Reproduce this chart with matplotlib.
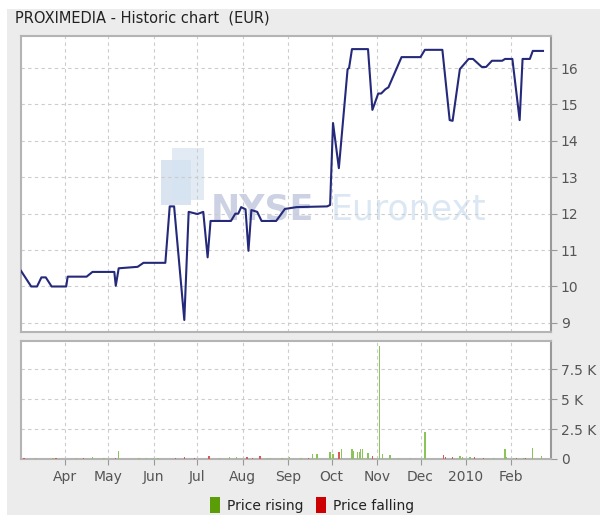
import pandas as pd
import matplotlib
matplotlib.use("Agg")
import matplotlib.pyplot as plt
import matplotlib.dates as mdates
from matplotlib.patches import Rectangle, Patch
from matplotlib.ticker import FixedLocator, FuncFormatter

# price line vertices (EUR)
price_dates = [
    "2009-03-02", "2009-03-09", "2009-03-13", "2009-03-16", "2009-03-19", "2009-03-23",
    "2009-04-02", "2009-04-03", "2009-04-16", "2009-04-20", "2009-05-05", "2009-05-06",
    "2009-05-08", "2009-05-21", "2009-05-25", "2009-06-09", "2009-06-12", "2009-06-15",
    "2009-06-22", "2009-06-25", "2009-07-01", "2009-07-05", "2009-07-08", "2009-07-10",
    "2009-07-24", "2009-07-27", "2009-07-29", "2009-07-31", "2009-08-03", "2009-08-05",
    "2009-08-07", "2009-08-11", "2009-08-14", "2009-08-24", "2009-08-30", "2009-09-07",
    "2009-09-28", "2009-09-30", "2009-10-02", "2009-10-06", "2009-10-12", "2009-10-13",
    "2009-10-15", "2009-10-26", "2009-10-29", "2009-11-02", "2009-11-04", "2009-11-07",
    "2009-11-09", "2009-11-18", "2009-12-01", "2009-12-04", "2009-12-16", "2009-12-21",
    "2009-12-23", "2009-12-28", "2010-01-03", "2010-01-06", "2010-01-12", "2010-01-15",
    "2010-01-19", "2010-01-26", "2010-01-28", "2010-02-02", "2010-02-07", "2010-02-09",
    "2010-02-14", "2010-02-16", "2010-02-23",
]
prices = [
    10.43, 10.0, 10.0, 10.25, 10.25, 10.0,
    10.0, 10.27, 10.27, 10.4, 10.4, 10.02,
    10.5, 10.54, 10.65, 10.65, 12.2, 12.2,
    9.08, 12.05, 11.99, 12.05, 10.8, 11.8,
    11.8, 12.0, 12.0, 12.18, 12.12, 10.98,
    12.1, 12.05, 11.8, 11.8, 12.13, 12.18,
    12.2, 12.24, 14.49, 13.25, 15.97, 16.0,
    16.52, 16.52, 14.85, 15.3, 15.3, 15.42,
    15.47, 16.3, 16.3, 16.5, 16.5, 14.57,
    14.55, 15.97, 16.25, 16.25, 16.03, 16.03,
    16.2, 16.2, 16.25, 16.25, 14.57, 16.25,
    16.25, 16.47, 16.47,
]

# daily volumes
rising_dates = [
    "2009-03-12", "2009-03-24", "2009-04-09", "2009-04-20", "2009-04-28", "2009-05-08",
    "2009-05-22", "2009-05-27", "2009-06-01", "2009-06-04", "2009-07-16", "2009-07-23",
    "2009-07-28", "2009-08-18", "2009-08-20", "2009-08-28", "2009-09-02", "2009-09-10",
    "2009-09-18", "2009-09-21", "2009-09-30", "2009-10-02", "2009-10-08", "2009-10-15",
    "2009-10-16", "2009-10-19", "2009-10-20", "2009-10-21", "2009-10-22", "2009-10-26",
    "2009-11-03", "2009-11-05", "2009-11-10", "2009-11-16", "2009-11-24", "2009-12-04",
    "2009-12-28", "2009-12-30", "2010-01-04", "2010-01-20", "2010-01-28", "2010-01-29",
    "2010-02-03", "2010-02-10", "2010-02-16", "2010-02-22",
]
rising_vol = [
    80, 60, 60, 170, 80, 670,
    100, 120, 90, 90, 80, 150,
    200, 100, 100, 120, 180, 90,
    420, 420, 590, 420, 840, 840,
    700, 550, 600, 840, 840, 500,
    9430, 420, 300, 60, 50, 2270,
    250, 200, 150, 70, 840, 150,
    80, 60, 880, 250,
]
falling_dates = [
    "2009-03-04", "2009-03-26", "2009-04-14", "2009-05-06", "2009-06-16", "2009-06-22",
    "2009-06-29", "2009-07-09", "2009-08-04", "2009-08-08", "2009-08-13", "2009-09-15",
    "2009-10-06", "2009-10-29", "2009-12-17", "2009-12-18", "2009-12-23", "2010-01-07",
    "2010-01-13", "2010-02-05", "2010-02-11",
]
falling_vol = [
    80, 60, 60, 120, 100, 150,
    80, 250, 200, 120, 220, 80,
    590, 250, 300, 200, 150, 200,
    100, 100, 80,
]

price_ticks = [9, 10, 11, 12, 13, 14, 15, 16]
vol_ticks = [0, 2500, 5000, 7500]
vol_labels = ["0", "2.5 K", "5 K", "7.5 K"]

title = "PROXIMEDIA - Historic chart  (EUR)"
x_start, x_end = pd.Timestamp("2009-03-02"), pd.Timestamp("2010-02-28 12:00")

GRID = "#cccccc"
SPINE = "#b4b4b4"
TICK_TXT = "#555555"

fig = plt.figure(figsize=(6.02, 5.15), dpi=100, facecolor="white")
fig.patches.append(Rectangle((7 / 602, 0), 593 / 602, 1 - 9 / 515,
                             transform=fig.transFigure, facecolor="#ececec",
                             edgecolor="none", zorder=-10))
fig.text(15 / 602, 1 - 18 / 515, title, fontsize=10.5, color="#222222",
         va="center", ha="left")

ax1 = fig.add_axes([21 / 602, 1 - 332 / 515, 530 / 602, 296 / 515])
ax2 = fig.add_axes([21 / 602, 1 - 459 / 515, 530 / 602, 118 / 515], sharex=ax1)


def style_axes(ax):
    ax.set_facecolor("white")
    for s in ax.spines.values():
        s.set_color(SPINE)
        s.set_linewidth(1.5)
    ax.spines["right"].set_color("#999999")
    ax.yaxis.tick_right()
    ax.tick_params(axis="y", direction="out", length=4, color="#999999",
                   labelcolor=TICK_TXT, labelsize=10, pad=3)
    ax.grid(True, color=GRID, linestyle=(0, (3, 3)), linewidth=0.8)
    ax.set_axisbelow(True)


style_axes(ax1)
style_axes(ax2)

# watermark
ax1.add_patch(Rectangle(((161 - 21) / 530, (332 - 205) / 296), 30 / 530, 45 / 296,
                        transform=ax1.transAxes, facecolor="#c9d9ea",
                        edgecolor="none", alpha=0.7, zorder=0))
ax1.add_patch(Rectangle(((172 - 21) / 530, (332 - 200) / 296), 32 / 530, 52 / 296,
                        transform=ax1.transAxes, facecolor="#d6e3f0",
                        edgecolor="none", alpha=0.7, zorder=0))
ax1.text((211 - 21) / 530, (332 - 219) / 296, "NYSE", transform=ax1.transAxes,
         fontsize=25, fontweight="bold", color="#ccd2e3", zorder=0)
ax1.text((331 - 21) / 530, (332 - 219) / 296, "Euronext", transform=ax1.transAxes,
         fontsize=25, color="#dbe8f4", zorder=0)

pdates = pd.to_datetime(price_dates)
ax1.plot(pdates, prices, color="#25297a", linewidth=1.5, zorder=3)
ax1.set_ylim(8.75, 16.88)
ax1.yaxis.set_major_locator(FixedLocator(price_ticks))
ax1.tick_params(axis="x", which="both", bottom=False, labelbottom=False)

ax2.bar(pd.to_datetime(rising_dates), rising_vol, width=0.9, color="#8dc45a",
        linewidth=0, zorder=3)
ax2.bar(pd.to_datetime(falling_dates), falling_vol, width=0.9, color="#e05555",
        linewidth=0, zorder=3)
ax2.set_ylim(0, 9850)
ax2.yaxis.set_major_locator(FixedLocator(vol_ticks))
ax2.set_yticklabels(vol_labels)

ax2.set_xlim(x_start, x_end)
ax2.xaxis.set_major_locator(mdates.MonthLocator())


def month_fmt(x, pos):
    d = mdates.num2date(x)
    return str(d.year) if d.month == 1 else d.strftime("%b")


ax2.xaxis.set_major_formatter(FuncFormatter(month_fmt))
ax2.tick_params(axis="x", direction="out", length=4, color="#999999",
                labelcolor=TICK_TXT, labelsize=10, pad=4)

handles = [Patch(facecolor="#5b9d06", edgecolor="none", label="Price rising"),
           Patch(facecolor="#cc0000", edgecolor="none", label="Price falling")]
fig.legend(handles=handles, loc="center", bbox_to_anchor=(312 / 602, 1 - 505 / 515),
           ncol=2, frameon=False, fontsize=10, handlelength=0.7, handleheight=1.5,
           handletextpad=0.5, columnspacing=0.9, labelcolor="#222222")

fig.savefig("out.png", dpi=100, facecolor=fig.get_facecolor())
